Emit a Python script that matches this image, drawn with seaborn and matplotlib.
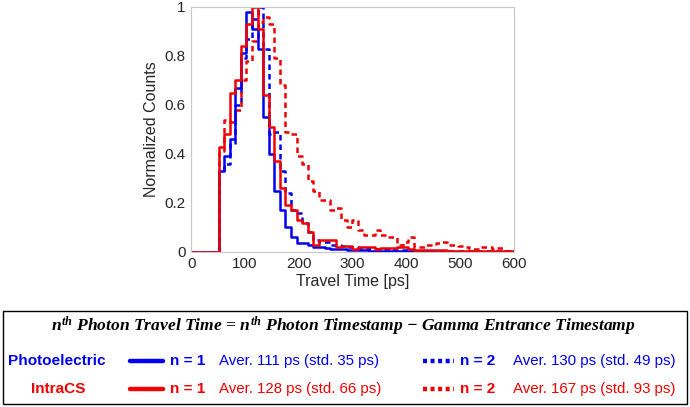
import numpy as np
import pandas as pd
import matplotlib
matplotlib.use("Agg")
import matplotlib.pyplot as plt
from matplotlib.lines import Line2D
from matplotlib.patches import Rectangle
import seaborn as sns

# ---------------- data (normalized counts per bin) ----------------
bin_start = 51.0       # ps, first non-empty bin edge
bin_end = 600.0        # ps, last bin edge
n_bins = 53

photo_n1 = [0.33, 0.39, 0.46, 0.67, 0.81, 0.98, 0.91, 0.83, 0.55, 0.40,
            0.25, 0.17, 0.10, 0.06, 0.035, 0.035, 0.03, 0.02, 0.02, 0.015,
            0.01, 0.01, 0.01, 0.008, 0.008, 0.006, 0.006, 0.005, 0.005, 0.004,
            0.004, 0.003, 0.003, 0.003, 0.002, 0.002, 0.002, 0.002, 0.001, 0.001,
            0.001, 0.001, 0.001, 0.001, 0.001, 0.001, 0.001, 0.001, 0.001, 0.001,
            0.001, 0.001, 0.001]
photo_n2 = [0.33, 0.36, 0.44, 0.60, 0.79, 0.87, 0.95, 1.00, 0.83, 0.48,
            0.49, 0.33, 0.24, 0.17, 0.16, 0.12, 0.08, 0.05, 0.04, 0.04,
            0.03, 0.03, 0.025, 0.02, 0.02, 0.015, 0.015, 0.012, 0.01, 0.01,
            0.01, 0.008, 0.008, 0.006, 0.006, 0.005, 0.005, 0.004, 0.004, 0.004,
            0.003, 0.003, 0.003, 0.003, 0.002, 0.002, 0.002, 0.002, 0.002, 0.002,
            0.002, 0.002, 0.002]
intra_n1 = [0.43, 0.48, 0.65, 0.70, 0.84, 0.93, 1.00, 0.91, 0.64, 0.51,
            0.37, 0.26, 0.19, 0.17, 0.13, 0.12, 0.08, 0.03, 0.05, 0.05,
            0.05, 0.02, 0.025, 0.025, 0.01, 0.02, 0.02, 0.02, 0.01, 0.015,
            0.015, 0.015, 0.02, 0.02, 0.01, 0.008, 0.008, 0.008, 0.006, 0.006,
            0.006, 0.005, 0.005, 0.005, 0.004, 0.004, 0.004, 0.003, 0.003, 0.003,
            0.003, 0.003, 0.003]
intra_n2 = [0.41, 0.54, 0.53, 0.58, 0.70, 0.78, 0.86, 0.94, 0.96, 0.93,
            0.79, 0.68, 0.49, 0.48, 0.39, 0.36, 0.29, 0.25, 0.21, 0.21,
            0.17, 0.18, 0.13, 0.10, 0.13, 0.09, 0.07, 0.07, 0.09, 0.07,
            0.06, 0.06, 0.03, 0.04, 0.06, 0.02, 0.02, 0.03, 0.03, 0.035,
            0.04, 0.03, 0.03, 0.025, 0.02, 0.01, 0.01, 0.02, 0.02, 0.01,
            0.015, 0.005, 0.005]

x_ticks = [0, 100, 200, 300, 400, 500, 600]
y_ticks = [0, 0.2, 0.4, 0.6, 0.8, 1.0]
y_tick_labels = ["0", "0.2", "0.4", "0.6", "0.8", "1"]

title_text = r"$n^{th}$ Photon Travel Time = $n^{th}$ Photon Timestamp $-$ Gamma Entrance Timestamp"
groups = ["Photoelectric", "IntraCS"]
n1_stats = ["Aver. 111 ps (std. 35 ps)", "Aver. 128 ps (std. 66 ps)"]
n2_stats = ["Aver. 130 ps (std. 49 ps)", "Aver. 167 ps (std. 93 ps)"]

BLUE = "#0000f0"
RED = "#f00000"

# ---------------- build step data ----------------
edges = np.linspace(bin_start, bin_end, n_bins + 1)


def steps(vals):
    x = np.concatenate([[0.0], edges])
    y = np.concatenate([[0.0], vals, [vals[-1]]])
    return x, y


rows = []
for name, vals in [("photo_n1", photo_n1), ("photo_n2", photo_n2),
                   ("intra_n1", intra_n1), ("intra_n2", intra_n2)]:
    x, y = steps(np.array(vals))
    for xi, yi in zip(x, y):
        rows.append({"series": name, "t": xi, "v": yi})
df = pd.DataFrame(rows)

# ---------------- figure ----------------
sns.set_theme(style="white")
plt.rcParams["font.family"] = ["Liberation Sans", "DejaVu Sans"]
plt.rcParams["mathtext.fontset"] = "custom"
plt.rcParams["mathtext.rm"] = "Liberation Serif:bold:italic"
plt.rcParams["mathtext.it"] = "Liberation Serif:bold:italic"

fig = plt.figure(figsize=(6.9, 4.07), dpi=100)
ax = fig.add_axes([0.277, 0.381, 0.468, 0.602])

styles = {"photo_n1": (BLUE, "-"), "photo_n2": (BLUE, (0, (2.2, 1.6))),
          "intra_n1": (RED, "-"), "intra_n2": (RED, (0, (2.2, 1.6)))}
for name in ["photo_n2", "intra_n2", "photo_n1", "intra_n1"]:
    c, ls = styles[name]
    sub = df[df["series"] == name]
    sns.lineplot(data=sub, x="t", y="v", ax=ax, color=c, linewidth=1.8,
                 drawstyle="steps-post", estimator=None, sort=False)
    ax.lines[-1].set_linestyle(ls)

ax.set_xlim(0, 600)
ax.set_ylim(0, 1)
ax.set_xticks(x_ticks)
ax.set_yticks(y_ticks)
ax.set_yticklabels(y_tick_labels)
ax.tick_params(axis="both", direction="in", length=3, colors="#c8c8c8",
               labelcolor="#262626", labelsize=11, width=0.8, pad=4)
for s in ax.spines.values():
    s.set_color("#c8c8c8")
    s.set_linewidth(0.8)
ax.set_xlabel("Travel Time [ps]", fontsize=11.5, color="#262626", labelpad=2)
ax.set_ylabel("Normalized Counts", fontsize=11.5, color="#262626", labelpad=4)

# ---------------- custom legend box ----------------
fig.add_artist(Rectangle((0.0045, 0.008), 0.991, 0.228, transform=fig.transFigure,
                         fill=False, edgecolor="#000000", linewidth=1.0))
fig.text(0.497, 0.197, title_text, ha="center", va="center", fontsize=12.6,
         family="Liberation Serif", style="italic", weight="bold", color="black")

row_y = [0.113, 0.044]
row_col = [BLUE, RED]
group_x = [0.083, 0.084]
for i in range(2):
    y = row_y[i]
    c = row_col[i]
    fig.text(group_x[i], y, groups[i], ha="center", va="center", fontsize=11.1,
             weight="bold", color=c)
    fig.add_artist(Line2D([0.188, 0.236], [y, y], transform=fig.transFigure,
                          color=c, linewidth=3.2))
    fig.text(0.247, y, "n = 1", ha="left", va="center", fontsize=11,
             weight="bold", color=c)
    fig.text(0.317, y, n1_stats[i], ha="left", va="center", fontsize=10.8,
             color=c)
    fig.add_artist(Line2D([0.613, 0.658], [y, y], transform=fig.transFigure,
                          color=c, linewidth=3.2, linestyle=(0, (0.9, 0.8))))
    fig.text(0.667, y, "n = 2", ha="left", va="center", fontsize=11,
             weight="bold", color=c)
    fig.text(0.744, y, n2_stats[i], ha="left", va="center", fontsize=10.8,
             color=c)

fig.savefig("out.png", dpi=100)
